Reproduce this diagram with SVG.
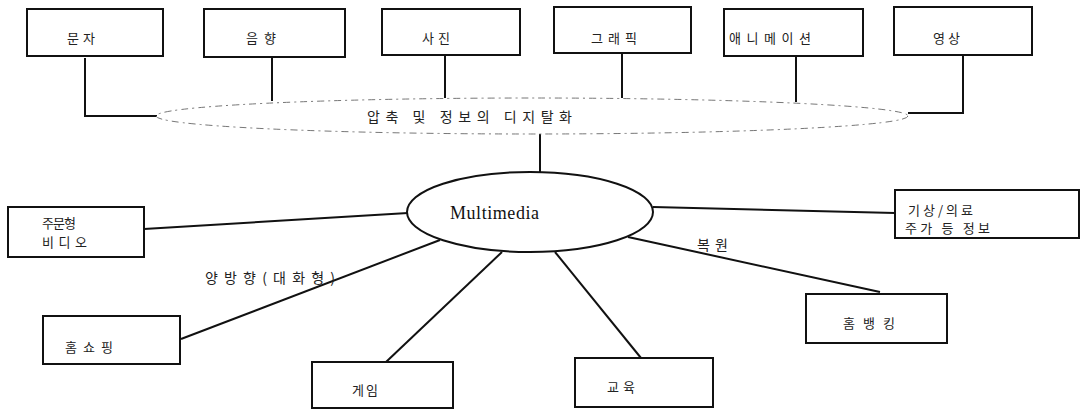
<svg xmlns="http://www.w3.org/2000/svg" width="1087" height="410" viewBox="0 0 1087 410">
<style>
.box{fill:#fff;stroke:#111;stroke-width:2}
.ln{fill:none;stroke:#111;stroke-width:2}
.k{font-family:"Noto Sans CJK KR","Liberation Sans",sans-serif;font-size:13px;fill:#222}
.lbl{font-family:"Noto Sans CJK KR","Liberation Sans",sans-serif;font-size:14px;fill:#222}
.mm{font-family:"Liberation Serif",serif;font-size:18px;fill:#111}
</style>
<rect width="1087" height="410" fill="#fff"/>
<g id="connectors">
<polyline class="ln" points="85,58 85,116 157,116"/>
<line class="ln" x1="272" y1="57" x2="272" y2="101"/>
<line class="ln" x1="445" y1="55" x2="445" y2="98"/>
<line class="ln" x1="622" y1="53" x2="622" y2="98"/>
<line class="ln" x1="796" y1="56" x2="796" y2="102"/>
<polyline class="ln" points="963,55 963,113 908,113"/>
<line class="ln" x1="540" y1="134" x2="540" y2="172"/>
<line class="ln" x1="144" y1="229" x2="408" y2="213"/>
<line class="ln" x1="181" y1="339" x2="440" y2="240"/>
<line class="ln" x1="502" y1="252" x2="386" y2="362"/>
<line class="ln" x1="555" y1="252" x2="641" y2="358"/>
<line class="ln" x1="653" y1="207" x2="895" y2="213"/>
<line class="ln" x1="628" y1="237" x2="880" y2="292"/>
<text class="lbl" x="205" y="283" textLength="130" lengthAdjust="spacing">양방향(대화형)</text>
<text class="lbl" x="697" y="250" textLength="31" lengthAdjust="spacing">복원</text>
</g>
<g id="digital">
<ellipse cx="532" cy="116" rx="376" ry="18" fill="none" stroke="#777" stroke-width="1" stroke-dasharray="7 4 2 4"/>
<text class="lbl" x="367" y="122" font-size="16" textLength="205" lengthAdjust="spacing">압축 및 정보의 디지탈화</text>
</g>
<g id="n-text"><rect class="box" x="27" y="9" width="136" height="47"/><text class="k" x="67" y="43" textLength="28" lengthAdjust="spacing">문자</text></g>
<g id="n-sound"><rect class="box" x="204" y="9" width="141" height="48"/><text class="k" x="246" y="43" textLength="30" lengthAdjust="spacing">음향</text></g>
<g id="n-photo"><rect class="box" x="382" y="9" width="138" height="46"/><text class="k" x="422" y="43" textLength="28" lengthAdjust="spacing">사진</text></g>
<g id="n-graphic"><rect class="box" x="554" y="7" width="137" height="46"/><text class="k" x="591" y="43" textLength="46" lengthAdjust="spacing">그래픽</text></g>
<g id="n-anim"><rect class="box" x="724" y="9" width="139" height="47"/><text class="k" x="729" y="43" textLength="82" lengthAdjust="spacing">애니메이션</text></g>
<g id="n-video"><rect class="box" x="894" y="7" width="138" height="48"/><text class="k" x="933" y="43" textLength="27" lengthAdjust="spacing">영상</text></g>
<g id="n-multimedia"><ellipse cx="530" cy="212" rx="123" ry="40" fill="#fff" stroke="#111" stroke-width="2"/><text class="mm" x="450" y="219" textLength="89" lengthAdjust="spacing">Multimedia</text></g>
<g id="n-vod"><rect class="box" x="8" y="207" width="136" height="50"/><text class="k" font-size="11" x="42" y="228" textLength="34" lengthAdjust="spacing">주문형</text><text class="k" font-size="11" x="42" y="247" textLength="45" lengthAdjust="spacing">비디오</text></g>
<g id="n-homeshop"><rect class="box" x="43" y="316" width="137" height="48"/><text class="k" x="65" y="352" textLength="48" lengthAdjust="spacing">홈쇼핑</text></g>
<g id="n-game"><rect class="box" x="312" y="362" width="141" height="46"/><text class="k" x="352" y="395" textLength="26" lengthAdjust="spacing">게임</text></g>
<g id="n-edu"><rect class="box" x="575" y="358" width="138" height="49"/><text class="k" x="607" y="392" textLength="28" lengthAdjust="spacing">교육</text></g>
<g id="n-info"><rect class="box" x="895" y="190" width="184" height="48"/><text class="k" x="908" y="215" textLength="65" lengthAdjust="spacing">기상/의료</text><text class="k" x="905" y="233" textLength="85" lengthAdjust="spacing">주가 등 정보</text></g>
<g id="n-homebank"><rect class="box" x="806" y="294" width="141" height="49"/><text class="k" x="843" y="328" textLength="52" lengthAdjust="spacing">홈뱅킹</text></g>
</svg>
